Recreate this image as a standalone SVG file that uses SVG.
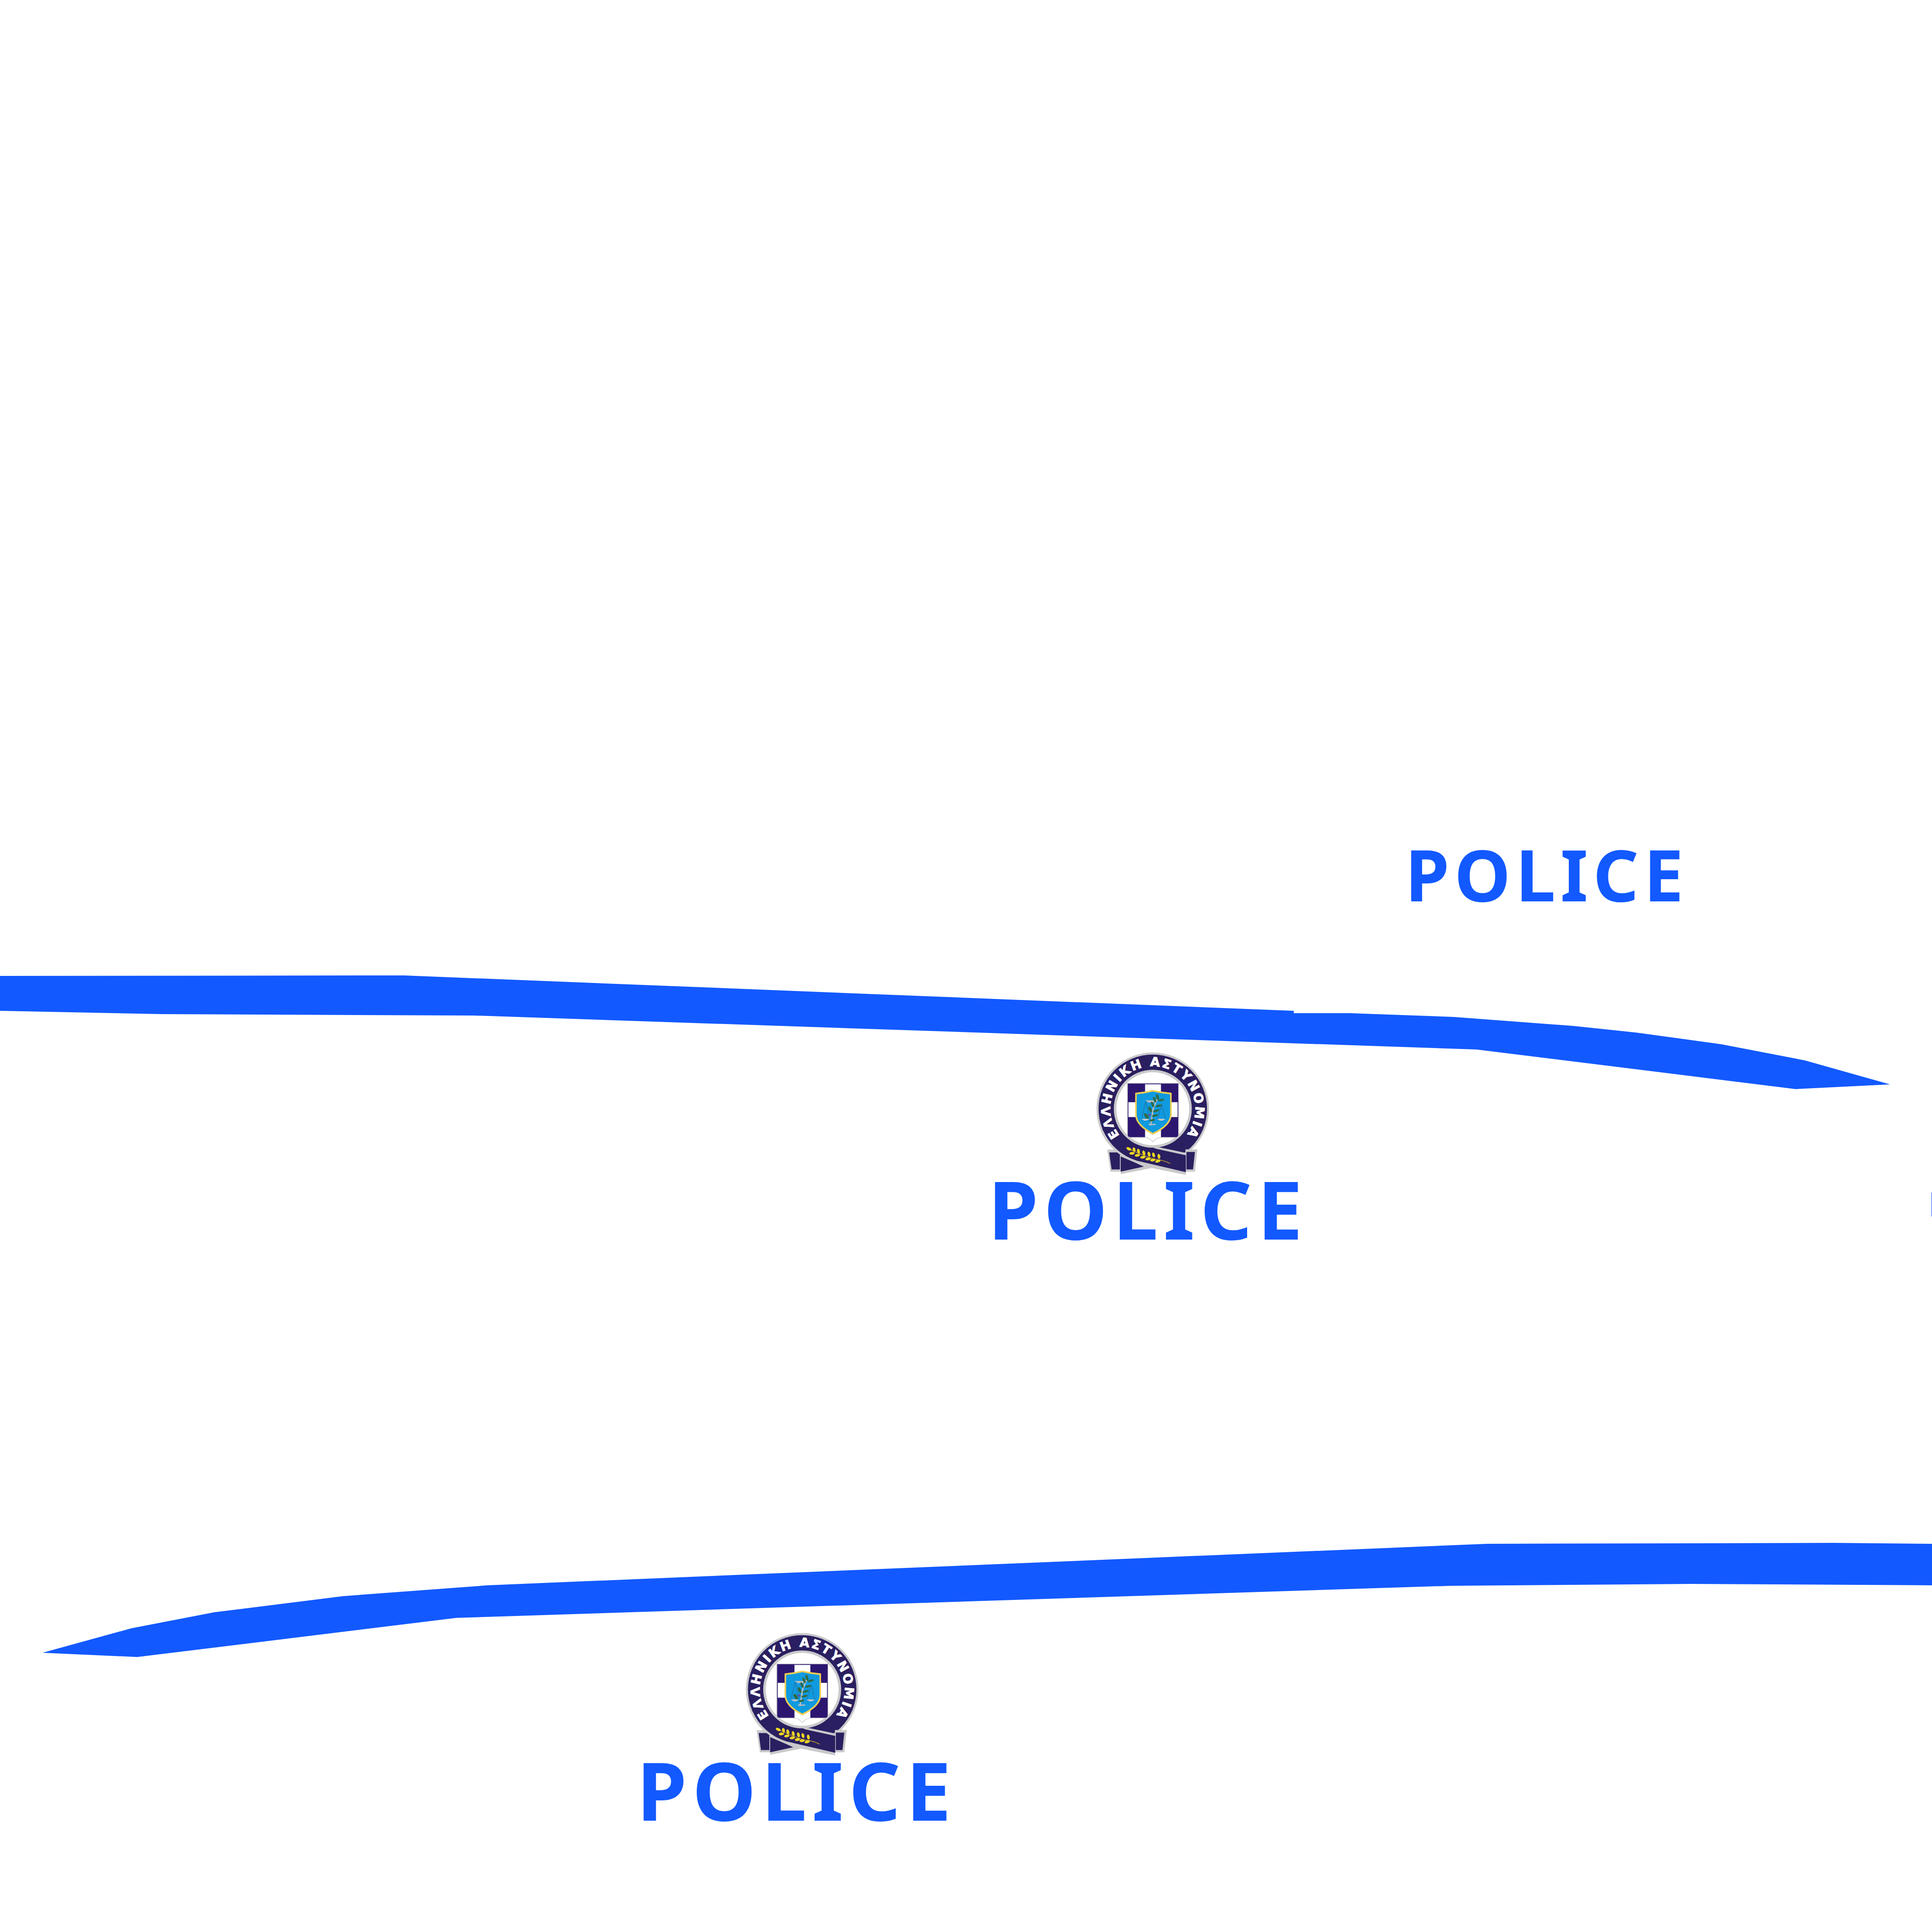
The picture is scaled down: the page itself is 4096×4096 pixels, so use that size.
<svg xmlns="http://www.w3.org/2000/svg" width="4096" height="4096" viewBox="0 0 4096 4096">
<style>
.band{fill:#1259ff}
.police{fill:#1259ff;font-family:"Noto Sans","Open Sans",sans-serif;font-weight:700}
.big{font-size:171px;letter-spacing:11.5px}
.small{font-size:151px;letter-spacing:10.5px}
.navy{fill:#2a1f60}
.sq{fill:#2c1670}
.grey{fill:#c9c9cb}
.ringtext{fill:#fff;stroke:#fff;stroke-width:3px;font-family:"DejaVu Sans",sans-serif;font-weight:700;font-size:80px;letter-spacing:10px}
.leaf{fill:#2f6b45}
.wheat{fill:#ecd522}
</style>
<defs>
<path id="ringpath" d="M391 643A270 270 0 1 1 773 643" fill="none"/>
<g id="branch">
<path d="M535 398H590V412H550L548 404H540Z" fill="#b9bcc0"/>
<path d="M537 405L511 516M537 405L562 516M640 425L612 516M640 425L662 516" stroke="#3d4a66" stroke-width="2" fill="none"/>
<path d="M510 516Q535 540 560 516ZM610 516Q636 540 662 516Z" fill="#c3c8cc"/>
<path d="M568 558L585 450L612 385" stroke="#b9bcc0" stroke-width="9" fill="none"/>
<path d="M556 552H600" stroke="#b9bcc0" stroke-width="8"/>
<ellipse class="leaf" cx="612" cy="378" rx="9" ry="20" transform="rotate(-15 612 378)"/>
<ellipse class="leaf" cx="594" cy="394" rx="8" ry="19" transform="rotate(-25 594 394)"/>
<ellipse class="leaf" cx="636" cy="397" rx="20" ry="7" transform="rotate(-15 636 397)"/>
<ellipse class="leaf" cx="581" cy="424" rx="8" ry="19" transform="rotate(-25 581 424)"/>
<ellipse class="leaf" cx="620" cy="433" rx="20" ry="7" transform="rotate(-15 620 433)"/>
<ellipse class="leaf" cx="565" cy="456" rx="9" ry="20" transform="rotate(-25 565 456)"/>
<ellipse class="leaf" cx="604" cy="465" rx="21" ry="7" transform="rotate(-15 604 465)"/>
<ellipse class="leaf" cx="541" cy="498" rx="10" ry="21" transform="rotate(-35 541 498)"/>
<ellipse class="leaf" cx="596" cy="495" rx="21" ry="7" transform="rotate(-12 596 495)"/>
<ellipse class="leaf" cx="578" cy="525" rx="18" ry="7" transform="rotate(-12 578 525)"/>
<ellipse cx="562" cy="490" rx="10" ry="8" fill="#4b5aa8"/>
</g>
<g id="wheat">
<path d="M440 712Q520 750 590 772Q650 778 693 800" stroke="#a98a32" stroke-width="5" fill="none"/>
<ellipse class="wheat" cx="430" cy="707" rx="17" ry="9" transform="rotate(25 430 707)"/>
<ellipse class="wheat" cx="463" cy="712" rx="9" ry="15" transform="rotate(-15 463 712)"/>
<ellipse class="wheat" cx="450" cy="735" rx="17" ry="9" transform="rotate(-5 450 735)"/>
<ellipse class="wheat" cx="491" cy="722" rx="9" ry="16" transform="rotate(-15 491 722)"/>
<ellipse class="wheat" cx="484" cy="748" rx="17" ry="9" transform="rotate(-10 484 748)"/>
<ellipse class="wheat" cx="525" cy="733" rx="9" ry="16" transform="rotate(-15 525 733)"/>
<ellipse class="wheat" cx="519" cy="760" rx="17" ry="9" transform="rotate(-10 519 760)"/>
<ellipse class="wheat" cx="558" cy="741" rx="9" ry="16" transform="rotate(-15 558 741)"/>
<ellipse class="wheat" cx="552" cy="771" rx="17" ry="9" transform="rotate(-10 552 771)"/>
<ellipse class="wheat" cx="587" cy="746" rx="9" ry="16" transform="rotate(-15 587 746)"/>
<ellipse class="wheat" cx="582" cy="778" rx="17" ry="9" transform="rotate(-10 582 778)"/>
<ellipse class="wheat" cx="621" cy="755" rx="9" ry="16" transform="rotate(-10 621 755)"/>
<ellipse class="wheat" cx="614" cy="785" rx="17" ry="9" transform="rotate(-15 614 785)"/>
</g>
<g id="crest">
<path class="grey" d="M292 712H378V852H313Z"/>
<path class="navy" d="M305 730H373V838H320Z"/>
<circle class="grey" cx="582" cy="452" r="358"/>
<circle class="navy" cx="582" cy="452" r="345"/>
<path class="grey" d="M790 710H866L850 852H790Z"/>
<path class="navy" d="M796 727H850L838 838H796Z"/>
<path class="grey" d="M378 745V868L575 829L520 805Z"/>
<path class="navy" d="M378 755V852L525 820L470 795Z"/>
<path class="grey" d="M250 590A358 358 0 0 0 470 792L575 829L792 872V733L600 692L400 620Z"/>
<path class="navy" d="M262 583L266 590A345 345 0 0 0 480 782L792 855V748L600 706L400 612Z"/>
<circle class="grey" cx="582" cy="452" r="248"/>
<circle cx="582" cy="452" r="232" fill="#fff"/>
<path class="grey" d="M418 288H748V618Q748 636 730 636H440Q418 636 418 618Z"/>
<path class="sq" d="M423 292H744V618Q744 632 728 632H438Q423 632 423 618Z"/>
<path d="M533 296H634V410H740V505H634V634L583 665L533 634V505H427V410H533Z" fill="#fff"/>
<path d="M533 634L558 640L583 662L608 640L634 634" fill="none" stroke="#c9c9cb" stroke-width="4"/>
<path d="M470 350Q530 345 583 333Q640 345 702 350V490Q702 560 583 617Q470 560 470 490Z" fill="#f1cd52"/>
<path d="M480 360Q535 355 583 343Q635 355 692 360V490Q692 552 583 605Q480 552 480 490Z" fill="#0f9ae0"/>
<use href="#branch"/>
<use href="#wheat"/>
</g>
</defs>
<rect width="4096" height="4096" fill="#fff"/>
<g id="connectors">
<polygon id="band-top" class="band" points="0,2069 857,2068 2743,2143 2743,2148 2862,2148 3082,2156 3335,2175 3468,2189 3650,2214 3826,2248 4007,2299 3807,2309 3130,2225 1005,2153 344,2150 0,2143"/>
<polygon id="band-bottom" class="band" points="90,3504 279,3452 455,3418 727,3384 1033,3361 3153,3273 3888,3271 4096,3273 4096,3361 3583,3358 3077,3362 968,3430 291,3513"/>
<rect id="edge-mark" class="band" x="4095" y="2528" width="1" height="51"/>
</g>
<g id="label-top"><text class="police small" x="2979" y="1911">POLICE</text></g>
<g id="station-middle">
<g transform="translate(2250 2200) scale(.33333)">
<use href="#crest"/>
<text class="ringtext" text-anchor="middle"><textPath href="#ringpath" startOffset="50%">ΕΛΛΗΝΙΚΗ ΑΣΤΥΝΟΜΙΑ</textPath></text>
</g>
<text class="police big" x="2095" y="2628">POLICE</text>
</g>
<g id="station-bottom">
<g transform="translate(1506.7 3431) scale(.33333)">
<use href="#crest"/>
<text class="ringtext" text-anchor="middle"><textPath href="#ringpath" startOffset="50%">ΕΛΛΗΝΙΚΗ ΑΣΤΥΝΟΜΙΑ</textPath></text>
</g>
<text class="police big" x="1350" y="3860">POLICE</text>
</g>
</svg>
